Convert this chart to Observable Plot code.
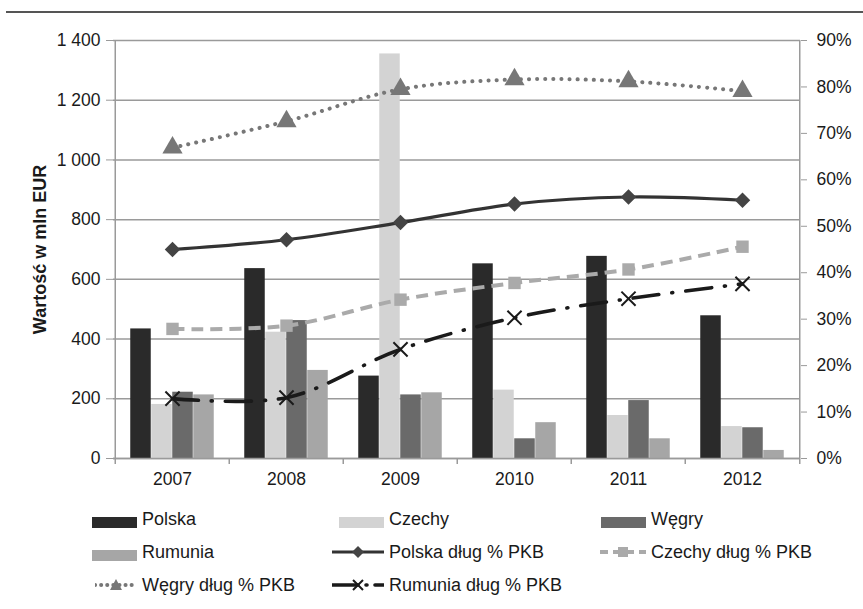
<!DOCTYPE html>
<html><head><meta charset="utf-8">
<script src="https://cdn.jsdelivr.net/npm/d3@7"></script>
<script src="https://cdn.jsdelivr.net/npm/@observablehq/plot@0.6"></script>
<style>
body{margin:0;background:#fff;font-family:"Liberation Sans",Arial,sans-serif;}
#wrap{position:relative;width:863px;height:609px;overflow:hidden;}
#topline{position:absolute;left:6px;right:0;top:11px;height:2px;background:#555;}
#chart{position:absolute;left:0;top:0;}
.legtxt{position:absolute;font-size:18px;color:#1a1a1a;white-space:nowrap;line-height:20px;height:20px;}
.legsw{position:absolute;}
</style></head>
<body><div id="wrap"><div id="topline"></div><div id="chart"></div></div>
<script>
const years = ["2007","2008","2009","2010","2011","2012"];
const barSeries = ["Polska","Czechy","Węgry","Rumunia"];
const polska  = [434, 636, 276, 652, 677, 478];
const czechy  = [181, 423, 1355, 229, 144, 107];
const wegry   = [222, 462, 213, 66, 194, 103];
const rumunia = [213, 295, 220, 120, 66, 27];
const polskaDlug  = [45.0, 47.1, 50.8, 54.8, 56.3, 55.6];
const czechyDlug  = [27.9, 28.6, 34.2, 37.8, 40.7, 45.6];
const wegryDlug   = [66.9, 72.6, 79.5, 81.6, 81.2, 79.1];
const rumuniaDlug = [12.9, 13.1, 23.5, 30.3, 34.4, 37.6];
const yTicks = [0,200,400,600,800,1000,1200,1400];
const pctTicks = [0,10,20,30,40,50,60,70,80,90];
const yLabel = "Wartość w mln EUR";

const W = 863, H = 500, mL = 113, mR = 63, mT = 40, mB = 42;
const bw = (W - mL - mR) / years.length;
const barW = 21;
const barColors = ["#2a2a2a", "#d3d3d3", "#6a6a6a", "#a6a6a6"];
const barVals = [polska, czechy, wegry, rumunia];
const toY = p => p * 1400 / 90;
const FS = 17.5;

const lineSeries = [
  {name:"Polska dług % PKB", vals: polskaDlug, stroke:"#333", dash:null, legDash:null, width:3.2, cap:"butt", symbol:"diamond2", fill:"#444", r:7},
  {name:"Czechy dług % PKB", vals: czechyDlug, stroke:"#aaa", dash:"12,7", legDash:"8,5", width:4, cap:"butt", symbol:"square", fill:"#aaa", r:7},
  {name:"Węgry dług % PKB", vals: wegryDlug, stroke:"#777", dash:"0.1,8", legDash:"0.1,6", width:4, cap:"round", symbol:"triangle", fill:"#777", r:7.5},
  {name:"Rumunia dług % PKB", vals: rumuniaDlug, stroke:"#1a1a1a", dash:"26,13,1,13", legDash:"26,8,1,8", width:3.6, cap:"round", symbol:"times", fill:null, r:6.5}
];

const marks = [];
marks.push(Plot.gridY(yTicks, {stroke:"#9a9a9a", strokeOpacity:1, strokeWidth:1.5}));
barVals.forEach((vals, i) => {
  const data = years.map((y, j) => ({year:y, value:vals[j]}));
  marks.push(Plot.barY(data, {x:"year", y:"value", fill:barColors[i],
    insetLeft:(bw-barW)/2, insetRight:(bw-barW)/2, dx:(i-1.5)*barW}));
});
marks.push(Plot.ruleY([0], {stroke:"#9a9a9a", strokeWidth:1.5}));
marks.push(Plot.ruleX([years[0]], {dx:-bw/2, y1:0, y2:1400, stroke:"#9a9a9a", strokeWidth:1.5}));
marks.push(Plot.ruleX([years[years.length-1]], {dx:bw/2, y1:0, y2:1400, stroke:"#9a9a9a", strokeWidth:1.5}));
marks.push(Plot.ruleX(years, {dx:-bw/2, y1:0, y2:-20, stroke:"#9a9a9a", strokeWidth:1.5}));
marks.push(Plot.ruleX([years[years.length-1]], {dx:bw/2, y1:0, y2:-20, stroke:"#9a9a9a", strokeWidth:1.5}));

lineSeries.forEach(s => {
  const data = years.map((y, j) => ({year:y, v:toY(s.vals[j])}));
  marks.push(Plot.line(data, {x:"year", y:"v", stroke:s.stroke, strokeWidth:s.width,
    strokeDasharray:s.dash, strokeLinecap:s.cap, curve:"catmull-rom"}));
  if (s.symbol === "times") {
    marks.push(Plot.dot(data, {x:"year", y:"v", symbol:"times", stroke:s.stroke, strokeWidth:2, r:s.r}));
  } else {
    marks.push(Plot.dot(data, {x:"year", y:"v", symbol:s.symbol, fill:s.fill, stroke:null, r:s.r}));
  }
});

marks.push(Plot.axisY(yTicks, {anchor:"left", tickSize:7, tickPadding:6, stroke:"#9a9a9a", fill:"#1a1a1a", fontSize:FS,
  tickFormat: d => d3.format(",")(d).replace(",", " "), label:null}));
marks.push(Plot.axisY(pctTicks.map(toY), {anchor:"right", tickSize:6, tickPadding:10, stroke:"#9a9a9a", fill:"#1a1a1a", fontSize:FS,
  tickFormat: d => Math.round(d * 90 / 1400) + "%", label:null}));
marks.push(Plot.axisX({tickSize:0, tickPadding:14, fill:"#1a1a1a", fontSize:FS, label:null}));
marks.push(Plot.text([yLabel], {text:d=>d, frameAnchor:"left", dx:-73, rotate:-90, textAnchor:"middle",
  fontWeight:"bold", fontSize:18, fill:"#1a1a1a"}));

const chart = Plot.plot({
  width:W, height:H, marginLeft:mL, marginRight:mR, marginTop:mT, marginBottom:mB,
  style:{fontFamily:"'Liberation Sans', Arial, sans-serif", fontSize:FS+"px", color:"#1a1a1a", background:"transparent", overflow:"visible"},
  x:{domain:years, padding:0, label:null, axis:null},
  y:{domain:[0,1400], label:null, axis:null},
  marks
});
document.getElementById("chart").appendChild(chart);

// Legend
const wrap = document.getElementById("wrap");
function swatchBar(color){
  return `<svg width="45" height="11"><rect x="0" y="0" width="45" height="11" fill="${color}"/></svg>`;
}
function swatchLine(s, w){
  const c = w/2;
  const sym = {
    diamond2: `<path d="M${c},1 L${c+6},7 L${c},13 L${c-6},7 Z" fill="${s.fill}"/>`,
    square: `<rect x="${c-5}" y="2" width="10" height="10" fill="${s.fill}"/>`,
    triangle: `<path d="M${c},1 L${c+6},12 L${c-6},12 Z" fill="${s.fill}"/>`,
    times: `<path d="M${c-5},2 L${c+5},12 M${c+5},2 L${c-5},12" stroke="${s.stroke}" stroke-width="2"/>`
  }[s.symbol];
  const dash = s.legDash ? `stroke-dasharray="${s.legDash}"` : "";
  return `<svg width="${w}" height="14"><line x1="0" y1="7" x2="${w}" y2="7" stroke="${s.stroke}" stroke-width="${s.width}" stroke-linecap="${s.cap}" ${dash}/>${sym}</svg>`;
}
const colText = [142, 389, 651];
const rowY = [519, 552, 585];
const legItems = [
  {sw: swatchBar(barColors[0]), sww:45, swh:11, text: barSeries[0], c:0, r:0},
  {sw: swatchBar(barColors[1]), sww:45, swh:11, text: barSeries[1], c:1, r:0},
  {sw: swatchBar(barColors[2]), sww:45, swh:11, text: barSeries[2], c:2, r:0},
  {sw: swatchBar(barColors[3]), sww:45, swh:11, text: barSeries[3], c:0, r:1},
  {sw: swatchLine(lineSeries[0], 52), sww:52, swh:14, text: lineSeries[0].name, c:1, r:1},
  {sw: swatchLine(lineSeries[1], 46), sww:46, swh:14, text: lineSeries[1].name, c:2, r:1},
  {sw: swatchLine(lineSeries[2], 42), sww:42, swh:14, text: lineSeries[2].name, c:0, r:2},
  {sw: swatchLine(lineSeries[3], 52), sww:52, swh:14, text: lineSeries[3].name, c:1, r:2}
];
legItems.forEach(it => {
  const tx = colText[it.c], cy = rowY[it.r];
  const s = document.createElement("div");
  s.className = "legsw";
  s.style.left = (tx - 5 - it.sww) + "px";
  s.style.top = (cy - it.swh/2) + "px";
  s.style.height = it.swh + "px";
  s.innerHTML = it.sw;
  wrap.appendChild(s);
  const t = document.createElement("div");
  t.className = "legtxt";
  t.style.left = tx + "px";
  t.style.top = (cy - 10) + "px";
  t.textContent = it.text;
  wrap.appendChild(t);
});
</script></body></html>
